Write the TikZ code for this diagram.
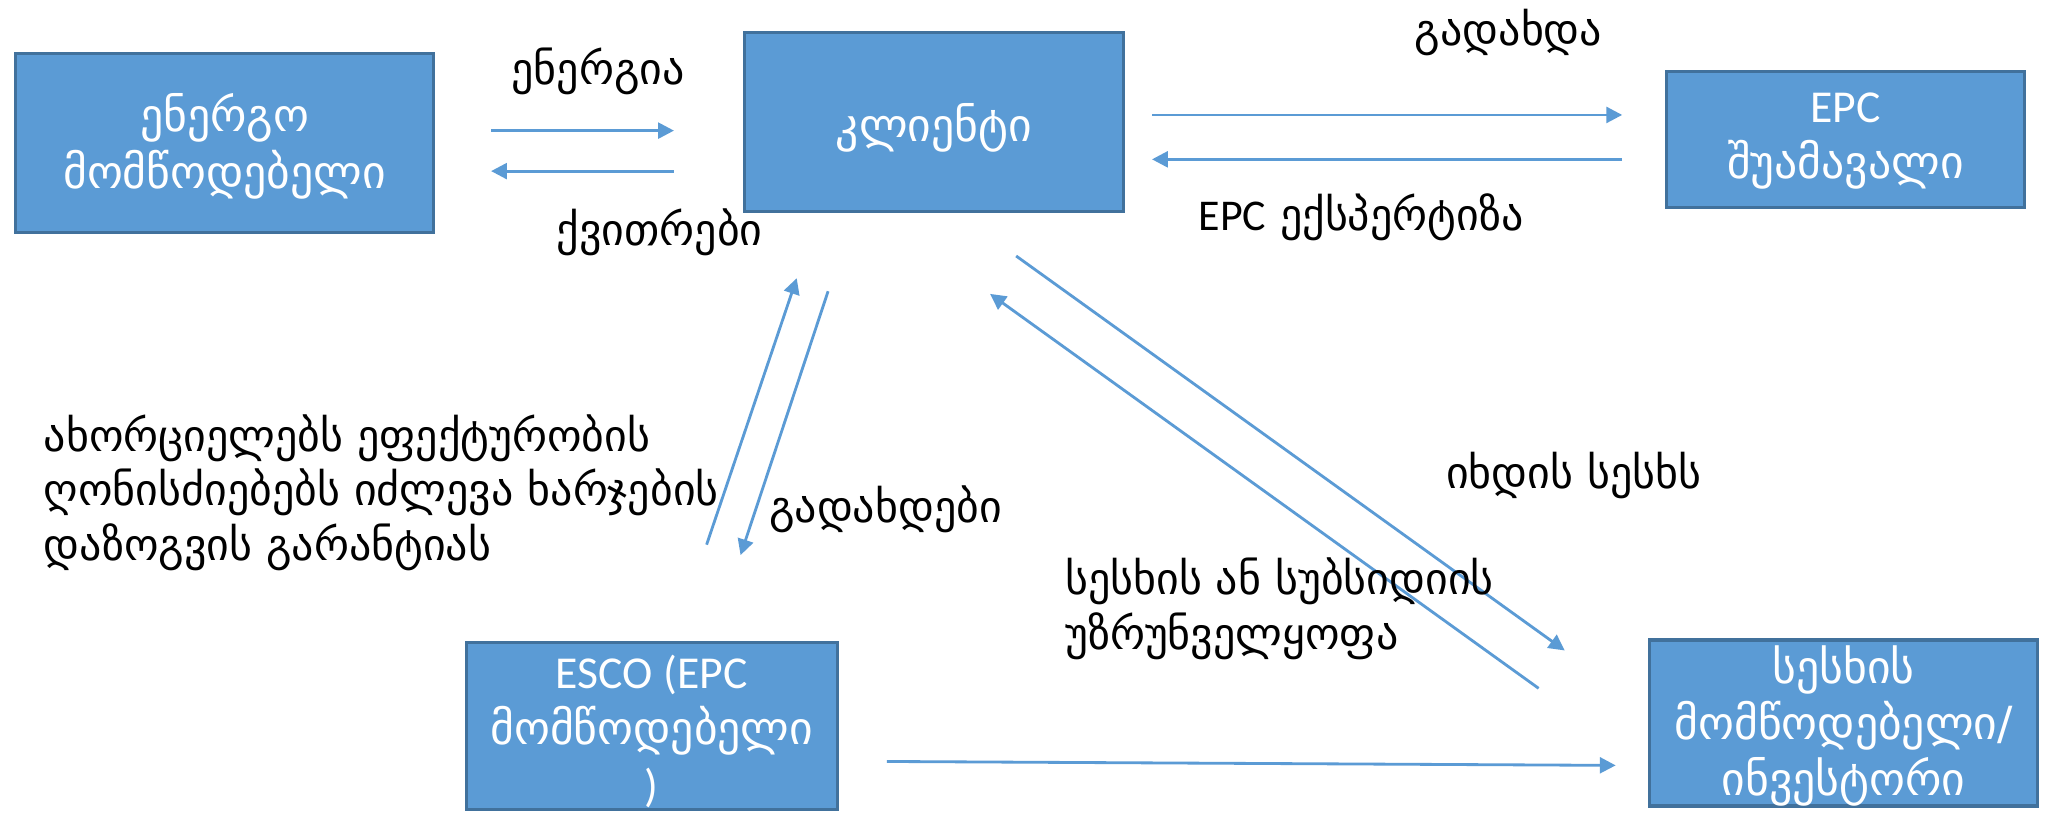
\documentclass[tikz,border=0pt]{standalone}
\usepackage{fontspec}
\setmainfont{Carlito}
\newfontfamily\geo{DejaVu Sans}
\usetikzlibrary{arrows.meta}
\definecolor{boxfill}{HTML}{5B9BD5}
\definecolor{boxline}{HTML}{41719C}
\definecolor{arrowblue}{HTML}{5B9BD5}
\newcommand\lat[1]{{\rmfamily #1}}

\begin{document}
\begin{tikzpicture}[x=0.01306cm,y=-0.01306cm,
  box/.style={draw=boxline, line width=0.9pt, fill=boxfill, inner sep=0pt},
  boxtext/.style={text=white, align=center, inner sep=0pt,
    font=\fontsize{13}{16}\selectfont\geo},
  lbl/.style={inner sep=0pt, font=\fontsize{12.5}{15.5}\selectfont\geo},
  flow/.style={draw=arrowblue, line width=0.8pt,
    -{Triangle[length=4.5pt,width=4.5pt]}}]

\fill[white] (0,0) rectangle (1568,624);
\useasboundingbox (0,0) rectangle (1568,624);

% boxes
\node[box, minimum width=4.18cm, minimum height=1.79cm] (supplier) at (172,109.5) {};
\node[box, minimum width=3.79cm, minimum height=1.79cm] (client) at (715,93.5) {};
\node[box, minimum width=3.58cm, minimum height=1.36cm] (broker) at (1413,107) {};
\node[box, minimum width=3.71cm, minimum height=1.67cm] (esco) at (499,556) {};
\node[box, minimum width=3.88cm, minimum height=1.66cm] (lender) at (1411.5,553.5) {};

% box texts
\node[boxtext] (supplierT) at (172,112) {ენერგო\\მომწოდებელი};
\node[boxtext] (clientT) at (715,98) {კლიენტი};
\node[boxtext] (brokerT) at (1413,108) {\lat{EPC}\\შუამავალი};
\node[boxtext] (escoT) at (499,560) {\lat{ESCO (EPC}\\მომწოდებელი\\\lat{)}};
\node[boxtext] (lenderT) at (1411.5,556) {სესხის\\მომწოდებელი/\\ინვესტორი};

% arrow end points
\coordinate (a1) at (376,100);  \coordinate (a2) at (516,100);
\coordinate (b1) at (516,131);  \coordinate (b2) at (376,131);
\coordinate (c1) at (882,88);   \coordinate (c2) at (1242,88);
\coordinate (d1) at (1242,122); \coordinate (d2) at (882,122);
\coordinate (e1) at (541,417);  \coordinate (e2) at (610,213);
\coordinate (f1) at (634,223);  \coordinate (f2) at (567,425);
\coordinate (g1) at (778,196);  \coordinate (g2) at (1198,498);
\coordinate (h1) at (1178,527); \coordinate (h2) at (758,225);
\coordinate (k1) at (679,583);  \coordinate (k2) at (1237,586);

\draw[flow] (a1) -- (a2);
\draw[flow] (b1) -- (b2);
\draw[flow] (c1) -- (c2);
\draw[flow] (d1) -- (d2);
\draw[flow] (e1) -- (e2);
\draw[flow] (f1) -- (f2);
\draw[flow] (g1) -- (g2);
\draw[flow] (h1) -- (h2);
\draw[flow] (k1) -- (k2);

% labels
\node[lbl] (lenergy) at (458,55) {ენერგია};
\node[lbl] (lreceipt) at (505,178) {ქვითრები};
\node[lbl] (lpay) at (1155,25) {გადახდა};
\node[lbl] (lexpert) at (1042,166) {\lat{EPC} ექსპერტიზა};
\node[lbl, anchor=west, align=left] (lesco) at (33,377)
  {ახორციელებს ეფექტურობის\\ღონისძიებებს იძლევა ხარჯების\\დაზოგვის გარანტიას};
\node[lbl] (lpays) at (678,390) {გადახდები};
\node[lbl] (lrepay) at (1205,364) {იხდის სესხს};
\node[lbl, anchor=west, align=left] (lloan) at (815,466)
  {სესხის ან სუბსიდიის\\უზრუნველყოფა};
\end{tikzpicture}
\end{document}
